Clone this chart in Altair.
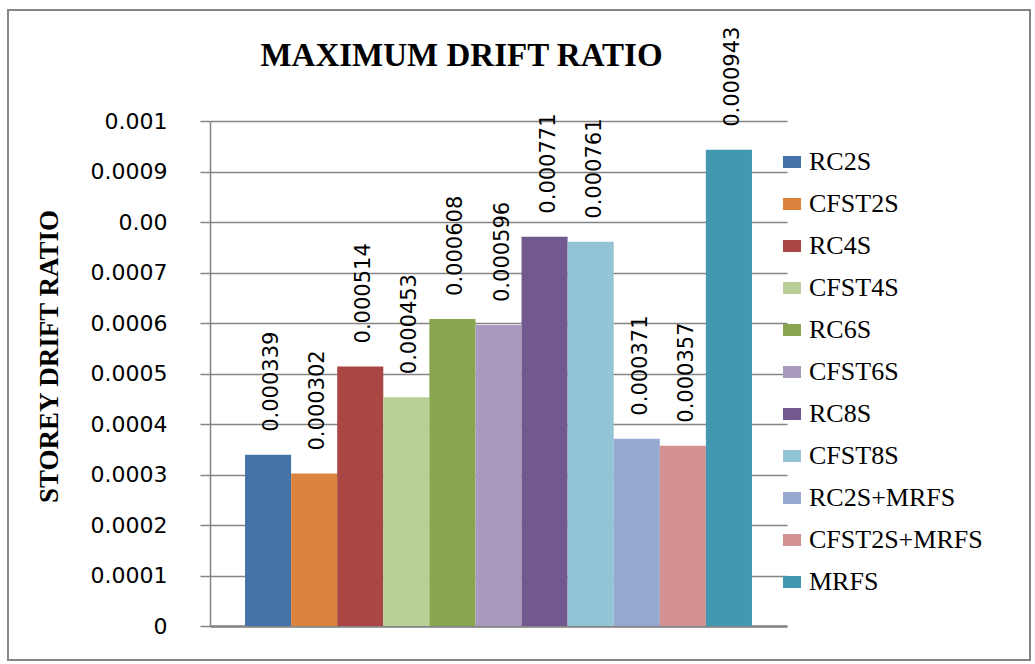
import altair as alt
import pandas as pd

series = ["RC2S", "CFST2S", "RC4S", "CFST4S", "RC6S", "CFST6S", "RC8S",
          "CFST8S", "RC2S+MRFS", "CFST2S+MRFS", "MRFS"]
values = [0.000339, 0.000302, 0.000514, 0.000453, 0.000608, 0.000596,
          0.000771, 0.000761, 0.000371, 0.000357, 0.000943]
value_labels = ["0.000339", "0.000302", "0.000514", "0.000453", "0.000608",
                "0.000596", "0.000771", "0.000761", "0.000371", "0.000357",
                "0.000943"]
colors = ["#4572A7", "#DB843D", "#AA4643", "#BACF97", "#89A54E", "#A99BBD",
          "#71588F", "#93C4D6", "#96A9D0", "#D39291", "#4198AF"]
tick_values = [0, 0.0001, 0.0002, 0.0003, 0.0004, 0.0005, 0.0006, 0.0007,
               0.0008, 0.0009, 0.001]
tick_labels = ["0", "0.0001", "0.0002", "0.0003", "0.0004", "0.0005",
               "0.0006", "0.0007", "0.00", "0.0009", "0.001"]

df = pd.DataFrame({"series": series, "value": values, "label": value_labels})

label_expr = "[" + ",".join(f"'{t}'" for t in tick_labels) + "][round(datum.value*10000)]"

GRAY = "#858585"

x_enc = alt.X("series:N", sort=series,
              scale=alt.Scale(paddingInner=0, paddingOuter=0.76),
              axis=alt.Axis(labels=False, ticks=False, title=None, grid=False,
                            domain=True, domainColor=GRAY, domainWidth=2.5))
y_enc = alt.Y("value:Q",
              scale=alt.Scale(domain=[0, 0.001], nice=False, zero=True),
              axis=alt.Axis(values=tick_values, labelExpr=label_expr,
                            title="STOREY DRIFT RATIO",
                            titleFont="Liberation Serif", titleFontSize=27,
                            titleFontWeight="bold", titleColor="black",
                            titleAngle=270, titleAlign="center",
                            titleBaseline="middle", titleX=-161, titleY=235,
                            labelFont="DejaVu Sans", labelFontSize=22,
                            labelColor="black", labelPadding=33,
                            tickSize=10, tickColor=GRAY, tickWidth=1.5,
                            domainColor=GRAY, domainWidth=1.5,
                            grid=True, gridColor=GRAY, gridWidth=1.5))

bars = alt.Chart(df).mark_bar().encode(
    x=x_enc,
    y=y_enc,
    color=alt.Color("series:N", sort=series,
                    scale=alt.Scale(domain=series, range=colors),
                    legend=alt.Legend(title=None, orient="none",
                                      legendX=569, legendY=28,
                                      symbolType="M-1,-0.67H1V0.67H-1Z",
                                      symbolSize=324, symbolStrokeWidth=0,
                                      symbolOpacity=1,
                                      labelFont="Liberation Serif",
                                      labelFontSize=26, labelColor="black",
                                      labelLimit=300, labelOffset=4,
                                      rowPadding=16, padding=0)),
)

text = alt.Chart(df).mark_text(angle=270, align="left", baseline="middle",
                               dx=23, dy=4, font="DejaVu Sans", fontSize=21,
                               color="black").encode(
    x=alt.X("series:N", sort=series),
    y=alt.Y("value:Q"),
    text="label:N",
)

border = alt.Chart(pd.DataFrame({"k": [0]})).mark_rect(
    fillOpacity=0, stroke=GRAY, strokeWidth=2).encode(
    x=alt.value(-202), x2=alt.value(820), y=alt.value(-111), y2=alt.value(539))

chart = alt.layer(border, bars, text).properties(
    width=577, height=505,
    title=alt.Title("MAXIMUM DRIFT RATIO", font="Liberation Serif",
                    fontSize=33, fontWeight="bold", color="black",
                    anchor="middle", dx=-37, dy=68),
    autosize=alt.AutoSizeParams(type="none"),
    padding={"left": 210, "top": 121, "right": 248, "bottom": 38},
).configure_view(strokeWidth=0)

chart.save("out.html", embed_options={"renderer": "svg", "actions": False})
